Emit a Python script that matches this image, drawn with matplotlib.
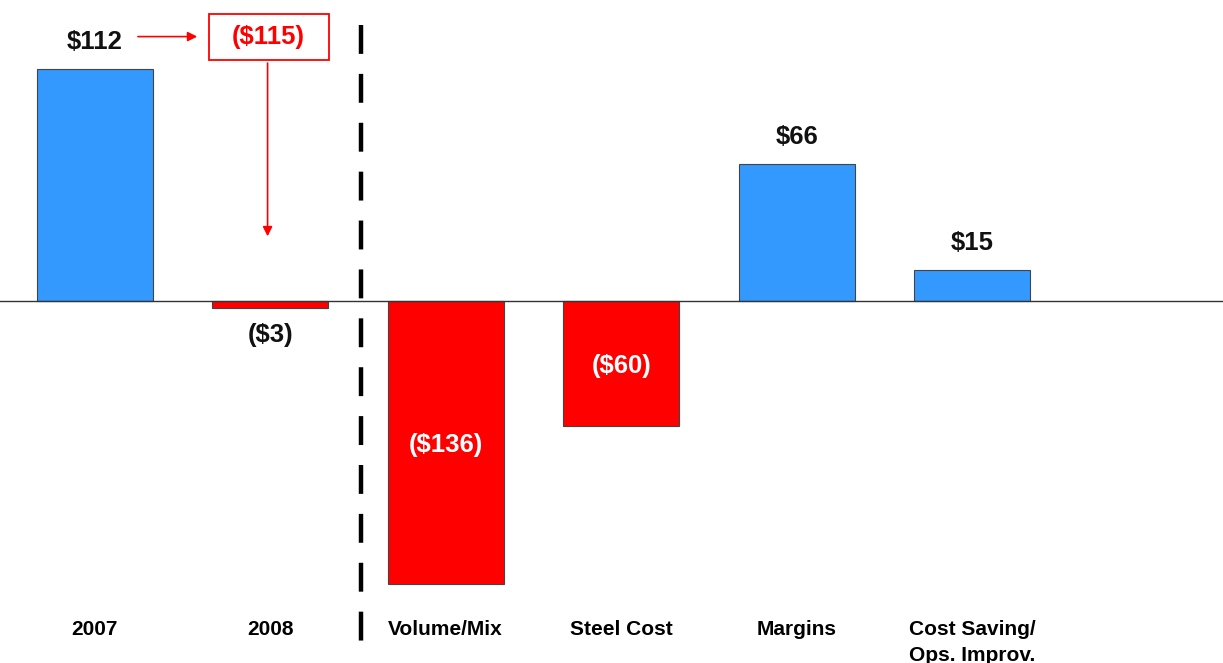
import matplotlib
matplotlib.use("Agg")
import matplotlib.pyplot as plt
from matplotlib.patches import Rectangle

categories = ["2007", "2008", "Volume/Mix", "Steel Cost", "Margins", "Cost Saving/\nOps. Improv."]
values = [112, -3, -136, -60, 66, 15]
labels = ["$112", "($3)", "($136)", "($60)", "$66", "$15"]
change_label = "($115)"

blue = "#3399FF"
red = "#FF0000"

plt.rcParams['font.family'] = ['Liberation Sans', 'DejaVu Sans']
plt.rcParams['font.weight'] = 'bold'

fig = plt.figure(figsize=(12.23, 6.63), dpi=100)
ax = fig.add_axes([0, 58 / 663, 1, 605 / 663])
ax.set_xlim(-0.54, 6.43)
ax.set_ylim(-146, 145)

x = list(range(len(categories)))
colors = [blue if v > 0 else red for v in values]
ax.bar(x, values, width=0.66, color=colors, edgecolor="#444444", linewidth=0.8, zorder=2)
ax.axhline(0, color="#333333", linewidth=1.0, zorder=3)

for i, (v, lab) in enumerate(zip(values, labels)):
    if v > 0:
        ax.text(i, v + 13, lab, ha="center", va="center", fontsize=18.5, fontweight="bold", color="#111111")
    elif abs(v) < 10:
        ax.text(i, v - 13, lab, ha="center", va="center", fontsize=18.5, fontweight="bold", color="#111111")
    else:
        ax.text(i, v / 2 - 1, lab, ha="center", va="center", fontsize=18.5, fontweight="bold", color="white")

# 2007 -> 2008 change callout
ax.add_patch(Rectangle((0.65, 116), 0.684, 22.2, fill=False, edgecolor=red, linewidth=1.3, zorder=4))
ax.text(0.99, 127.4, change_label, ha="center", va="center", fontsize=18.5, fontweight="bold", color=red)
ax.annotate("", xy=(0.6, 127.4), xytext=(0.23, 127.4),
            arrowprops=dict(arrowstyle="-|>", color=red, lw=1.2, mutation_scale=14))
ax.annotate("", xy=(0.985, 30), xytext=(0.985, 116),
            arrowprops=dict(arrowstyle="-|>", color=red, lw=1.2, mutation_scale=14))

# separator between years and drivers
ax.plot([1.52, 1.52], [133, -164.5], color="black", linewidth=3.2,
        dashes=(6.5, 4.5), clip_on=False, zorder=5)

ax.set_xticks(x)
ax.set_xticklabels(categories, fontsize=15, fontweight="bold", va="top", linespacing=1.45)
ax.tick_params(axis="x", length=0, pad=11)
ax.set_yticks([])
for s in ax.spines.values():
    s.set_visible(False)

fig.savefig("out.png", dpi=100)
